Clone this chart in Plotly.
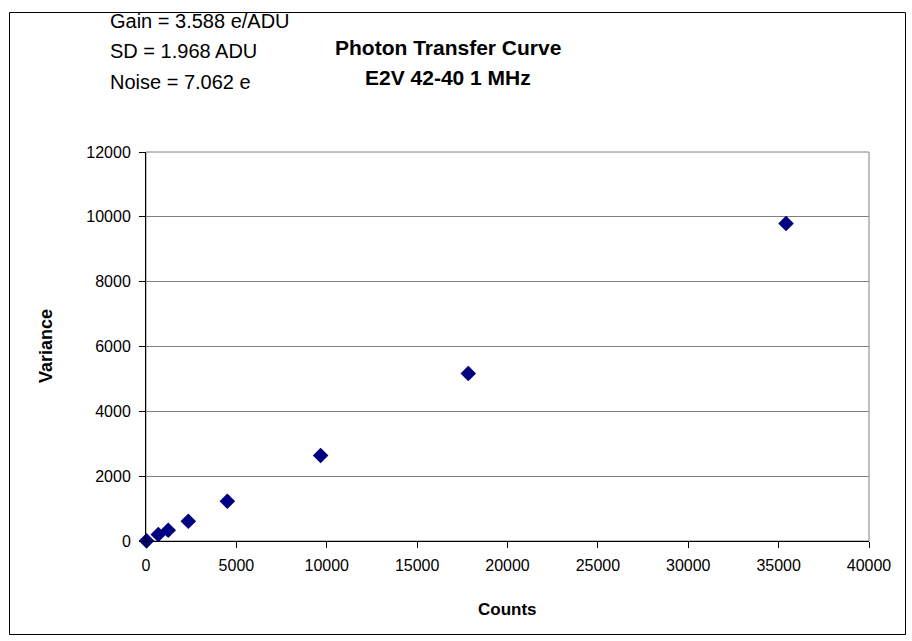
import plotly.graph_objects as go

counts = [30, 680, 1230, 2340, 4500, 9660, 17830, 35410]
variance = [5, 200, 333, 611, 1228, 2638, 5167, 9794]

x_ticks = [0, 5000, 10000, 15000, 20000, 25000, 30000, 35000, 40000]
y_ticks = [0, 2000, 4000, 6000, 8000, 10000, 12000]

title_lines = ["Photon Transfer Curve", "E2V 42-40 1 MHz"]
info_lines = ["Gain = 3.588 e/ADU", "SD = 1.968 ADU", "Noise = 7.062 e"]
x_title = "Counts"
y_title = "Variance"

FONT = "Arial, 'Liberation Sans', sans-serif"

W, H = 912, 641
L, R, T, B = 146, 869, 152, 541

fig = go.Figure()
fig.add_trace(go.Scatter(
    x=counts, y=variance, mode="markers",
    marker=dict(symbol="diamond", size=12, color="#000080",
                line=dict(width=0)),
    showlegend=False, cliponaxis=False,
))

def px(xp):
    return (xp - L) / (R - L)

def py(yp):
    return (B - yp) / (B - T)

fig.update_layout(
    width=W, height=H,
    margin=dict(l=L, r=W - R, t=T, b=H - B),
    paper_bgcolor="white", plot_bgcolor="white",
    font=dict(family=FONT, size=16, color="black"),
    xaxis=dict(
        range=[0, 40000], tickvals=x_ticks, ticktext=[str(v) for v in x_ticks],
        ticks="outside", ticklen=6, ticklabelstandoff=4,
        tickcolor="black", showgrid=False, zeroline=False,
        showline=True, linecolor="black", linewidth=1,
    ),
    yaxis=dict(
        range=[0, 12000], tickvals=y_ticks, ticktext=[str(v) for v in y_ticks],
        ticks="outside", ticklen=6, ticklabelstandoff=5,
        tickcolor="black", showgrid=True, gridcolor="#808080", gridwidth=1,
        zeroline=False, showline=True, linecolor="black", linewidth=1,
    ),
)

# plot-area border (gray top/right)
fig.add_shape(type="rect", xref="paper", yref="paper", x0=0, x1=1, y0=0, y1=1,
              line=dict(color="#808080", width=1), layer="below")
# outer chart border
fig.add_shape(type="rect", xref="paper", yref="paper",
              x0=px(9.5), x1=px(905.5), y0=py(634.5), y1=py(12.5),
              line=dict(color="black", width=1), layer="below")

for i, t in enumerate(title_lines):
    fig.add_annotation(text="<b>%s</b>" % t, xref="paper", yref="paper",
                       x=px(448), y=py(47 + i * 31), showarrow=False,
                       xanchor="center", yanchor="middle",
                       font=dict(size=21, family=FONT))

for i, t in enumerate(info_lines):
    fig.add_annotation(text=t, xref="paper", yref="paper",
                       x=px(108), y=py(21 + i * 30.5), showarrow=False,
                       xanchor="left", yanchor="middle",
                       font=dict(size=20, family=FONT))

fig.add_annotation(text="<b>%s</b>" % x_title, xref="paper", yref="paper",
                   x=px(507), y=py(609), showarrow=False,
                   xanchor="center", yanchor="middle",
                   font=dict(size=17, family=FONT))
fig.add_annotation(text="<b>%s</b>" % y_title, xref="paper", yref="paper",
                   x=px(46), y=py(346), showarrow=False, textangle=-90,
                   xanchor="center", yanchor="middle",
                   font=dict(size=18, family=FONT))

fig.write_html("out.html")
